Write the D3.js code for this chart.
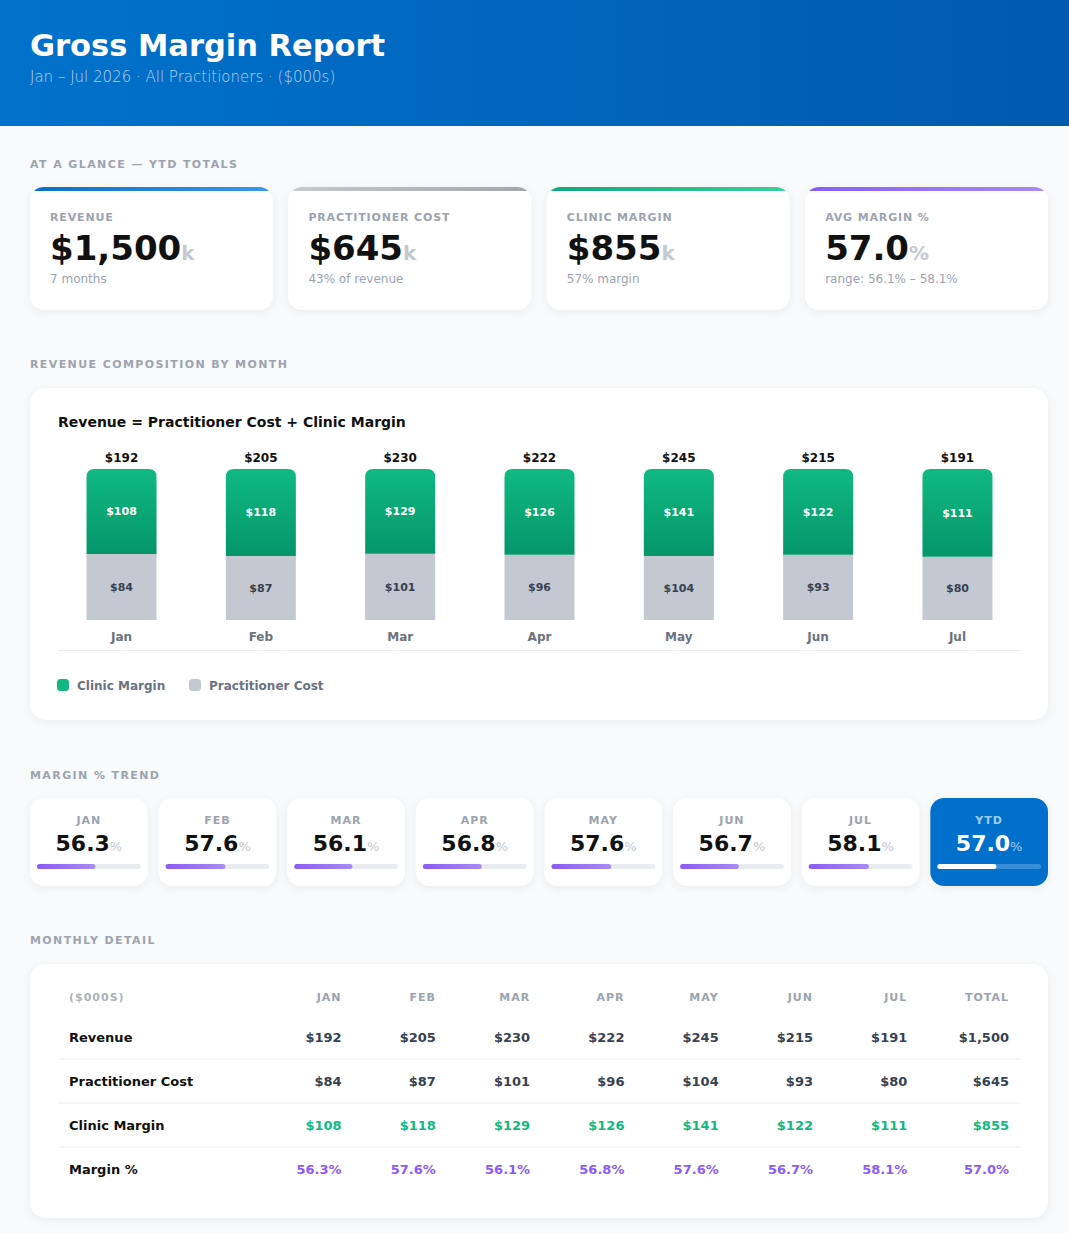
<!DOCTYPE html>
<html>
<head>
<meta charset="utf-8">
<script src="https://cdn.jsdelivr.net/npm/d3@7"></script>
<style>
  html, body { margin: 0; padding: 0; background: #f8fafc; }
  svg { display: block; font-family: "DejaVu Sans", sans-serif; }
</style>
</head>
<body>
<div id="chart"></div>
<script>

// values, $000s
const months = ['Jan', 'Feb', 'Mar', 'Apr', 'May', 'Jun', 'Jul'];
const revenue = [192, 205, 230, 222, 245, 215, 191];
const practitionerCost = [84, 87, 101, 96, 104, 93, 80];
const clinicMargin = [108, 118, 129, 126, 141, 122, 111];
const marginPct = [56.3, 57.6, 56.1, 56.8, 57.6, 56.7, 58.1];
const ytdMarginPct = 57.0;

const kpiLabels = ['REVENUE', 'PRACTITIONER COST', 'CLINIC MARGIN', 'AVG MARGIN %'];
const kpiNotes = ['7 months', '43% of revenue', '57% margin', 'range: 56.1% – 58.1%'];
const tableRows = ['Revenue', 'Practitioner Cost', 'Clinic Margin', 'Margin %'];

const theme = {
	page: '#f8fafc',
	card: '#ffffff',
	ink: '#111111',
	muted: '#9ca3af',
	tick: '#6b7280',
	cell: '#374151',
	rule: '#eceef2',
	green: '#10b981',
	greenDark: '#059669',
	gray: '#c4c8d0',
	purple: '#8b5cf6',
	purpleLight: '#a78bfa',
	blue: '#0070cc',
};

const W = 1069, H = 1233;
const money = v => '$' + d3.format(',')(v);

const svg = d3.select('#chart').append('svg')
	.attr('width', W)
	.attr('height', H);

const defs = svg.append('defs');

const grad = (id, a, b, vertical) => {
	const g = defs.append('linearGradient').attr('id', id)
		.attr('x1', 0).attr('y1', 0)
		.attr('x2', vertical ? 0 : 1).attr('y2', vertical ? 1 : 0);
	g.append('stop').attr('offset', 0).attr('stop-color', a);
	g.append('stop').attr('offset', 1).attr('stop-color', b);
	return 'url(#' + id + ')';
};

const headerFill = grad('hdr', '#0072cc', '#005aae', false);
const greenFill = grad('grn', theme.green, theme.greenDark, true);
const purpleFill = grad('pur', theme.purple, theme.purpleLight, false);
const topBars = [
	grad('kb0', '#0a6fc4', '#3b97ea', false),
	grad('kb1', '#c7c9ce', '#a3a6ad', false),
	grad('kb2', '#10a77a', '#3ccf9c', false),
	grad('kb3', '#8b5cf6', '#a98bf0', false),
];

const shadow = defs.append('filter').attr('id', 'shadow')
	.attr('x', '-10%').attr('y', '-10%').attr('width', '120%').attr('height', '130%');
shadow.append('feDropShadow')
	.attr('dx', 0).attr('dy', 2).attr('stdDeviation', 4)
	.attr('flood-color', '#0f172a').attr('flood-opacity', 0.06);

svg.append('rect').attr('width', W).attr('height', H).attr('fill', theme.page);

// header
svg.append('rect').attr('width', W).attr('height', 126).attr('fill', headerFill);
svg.append('text')
	.attr('x', 30).attr('y', 56)
	.attr('font-size', 30.5).attr('font-weight', 'bold').attr('fill', '#fff')
	.text('Gross Margin Report');
svg.append('text')
	.attr('x', 30).attr('y', 82)
	.attr('font-size', 15).attr('font-weight', 300)
	.attr('fill', '#fff').attr('fill-opacity', 0.7)
	.text('Jan – Jul 2026 · All Practitioners · ($000s)');

const sectionLabel = (y, txt) => svg.append('text')
	.attr('x', 30).attr('y', y)
	.attr('font-size', 11).attr('font-weight', 'bold')
	.attr('letter-spacing', 1.4).attr('fill', theme.muted)
	.text(txt);

const card = (g, w, h, r) => g.append('rect')
	.attr('width', w).attr('height', h).attr('rx', r)
	.attr('fill', theme.card).attr('filter', 'url(#shadow)');

// ---- at a glance ----
sectionLabel(168, 'AT A GLANCE — YTD TOTALS');

const kpiValues = [d3.sum(revenue), d3.sum(practitionerCost), d3.sum(clinicMargin), ytdMarginPct];
const kpiX = d3.scaleBand().domain(d3.range(4)).range([30, 1048]).paddingInner(0.06);

kpiValues.forEach((v, i) => {
	const g = svg.append('g').attr('transform', `translate(${kpiX(i)},187)`);
	const w = kpiX.bandwidth(), h = 123;
	defs.append('clipPath').attr('id', 'kc' + i)
		.append('rect').attr('width', w).attr('height', h).attr('rx', 14);
	card(g, w, h, 14);
	g.append('rect').attr('width', w).attr('height', 4)
		.attr('fill', topBars[i]).attr('clip-path', `url(#kc${i})`);
	g.append('text')
		.attr('x', 20).attr('y', 34)
		.attr('font-size', 11).attr('font-weight', 'bold')
		.attr('letter-spacing', 0.85).attr('fill', theme.muted)
		.text(kpiLabels[i]);
	const t = g.append('text')
		.attr('x', 20).attr('y', 73)
		.attr('font-weight', 'bold').attr('fill', theme.ink);
	t.append('tspan').attr('font-size', 34)
		.text(i === 3 ? v.toFixed(1) : money(v));
	t.append('tspan').attr('font-size', 20).attr('fill', theme.gray)
		.text(i === 3 ? '%' : 'k');
	g.append('text')
		.attr('x', 20).attr('y', 96)
		.attr('font-size', 12).attr('fill', theme.muted)
		.text(kpiNotes[i]);
});

// ---- revenue composition ----
sectionLabel(368, 'REVENUE COMPOSITION BY MONTH');

const chart = svg.append('g').attr('transform', 'translate(30,388)');
card(chart, 1018, 332, 16);
chart.append('text')
	.attr('x', 28).attr('y', 39)
	.attr('font-size', 14).attr('font-weight', 'bold').attr('fill', theme.ink)
	.text('Revenue = Practitioner Cost + Clinic Margin');

const x = d3.scaleBand().domain(months).range([58, 1021]).paddingInner(0.088);
const y = d3.scaleLinear().domain([0, 1]).range([620, 469]);
const barW = 70;

const rows = months.map((m, i) => ({
	m, rev: revenue[i], cost: practitionerCost[i], margin: clinicMargin[i],
	share: clinicMargin[i] / revenue[i],
}));

const topRounded = (x0, y0, w, h, r) =>
	`M${x0},${y0 + h}V${y0 + r}Q${x0},${y0} ${x0 + r},${y0}H${x0 + w - r}Q${x0 + w},${y0} ${x0 + w},${y0 + r}V${y0 + h}Z`;

const bars = svg.append('g').selectAll('g').data(rows).join('g')
	.attr('transform', d => `translate(${x(d.m) + x.bandwidth() / 2},0)`);

bars.append('rect')
	.attr('x', -barW / 2).attr('width', barW)
	.attr('y', d => y(1 - d.share))
	.attr('height', d => y(0) - y(1 - d.share))
	.attr('fill', theme.gray);

bars.append('path')
	.attr('d', d => topRounded(-barW / 2, y(1), barW, y(1 - d.share) - y(1), 8))
	.attr('fill', greenFill);

bars.append('text')
	.attr('text-anchor', 'middle')
	.attr('y', d => (y(1) + y(1 - d.share)) / 2 + 4)
	.attr('font-size', 11).attr('font-weight', 'bold').attr('fill', '#fff')
	.text(d => money(d.margin));

bars.append('text')
	.attr('text-anchor', 'middle')
	.attr('y', d => (y(1 - d.share) + y(0)) / 2 + 4)
	.attr('font-size', 11).attr('font-weight', 'bold').attr('fill', theme.cell)
	.text(d => money(d.cost));

bars.append('text')
	.attr('text-anchor', 'middle')
	.attr('y', y(1) - 7)
	.attr('font-size', 12).attr('font-weight', 'bold').attr('fill', theme.ink)
	.text(d => money(d.rev));

const xAxis = svg.append('g')
	.attr('transform', 'translate(0,620)')
	.call(d3.axisBottom(x).tickSize(0).tickPadding(12));
xAxis.select('.domain').remove();
xAxis.selectAll('text')
	.attr('font-family', '"DejaVu Sans", sans-serif')
	.attr('font-size', 12).attr('font-weight', 'bold').attr('fill', theme.tick);

svg.append('line')
	.attr('x1', 58).attr('x2', 1021).attr('y1', 650.5).attr('y2', 650.5)
	.attr('stroke', theme.rule);

const legend = [['Clinic Margin', theme.green, 57], ['Practitioner Cost', theme.gray, 189]];
const lg = svg.append('g').selectAll('g').data(legend).join('g')
	.attr('transform', d => `translate(${d[2]},679)`);
lg.append('rect').attr('width', 12).attr('height', 12).attr('rx', 3.5).attr('fill', d => d[1]);
lg.append('text')
	.attr('x', 20).attr('y', 10.5)
	.attr('font-size', 12).attr('font-weight', 'bold').attr('fill', theme.tick)
	.text(d => d[0]);

// ---- margin trend ----
sectionLabel(779, 'MARGIN % TREND');

const trend = months.map((m, i) => ({ m: m.toUpperCase(), v: marginPct[i], ytd: false }))
	.concat([{ m: 'YTD', v: ytdMarginPct, ytd: true }]);
const tx = d3.scaleBand().domain(trend.map(d => d.m)).range([30, 1048]).paddingInner(0.085);
const tw = tx.bandwidth();
const fillW = d3.scaleLinear().domain([0, 100]).range([0, tw - 14]);

const tc = svg.append('g').selectAll('g').data(trend).join('g')
	.attr('transform', d => `translate(${tx(d.m)},798)`);

tc.append('rect')
	.attr('width', tw).attr('height', 88).attr('rx', 14)
	.attr('fill', d => d.ytd ? theme.blue : theme.card)
	.attr('filter', 'url(#shadow)');

tc.append('text')
	.attr('x', tw / 2).attr('y', 26)
	.attr('text-anchor', 'middle')
	.attr('font-size', 11).attr('font-weight', 'bold').attr('letter-spacing', 1)
	.attr('fill', d => d.ytd ? '#fff' : theme.muted)
	.attr('fill-opacity', d => d.ytd ? 0.65 : 1)
	.text(d => d.m);

const tv = tc.append('text')
	.attr('x', tw / 2).attr('y', 53)
	.attr('text-anchor', 'middle').attr('font-weight', 'bold')
	.attr('fill', d => d.ytd ? '#fff' : theme.ink);
tv.append('tspan').attr('font-size', 22).text(d => d.v.toFixed(1));
tv.append('tspan').attr('font-size', 13).attr('font-weight', 'normal')
	.attr('fill', d => d.ytd ? '#fff' : theme.gray)
	.attr('fill-opacity', d => d.ytd ? 0.65 : 1)
	.text('%');

tc.append('rect')
	.attr('x', 7).attr('y', 66).attr('width', tw - 14).attr('height', 5).attr('rx', 2.5)
	.attr('fill', d => d.ytd ? '#ffffff' : '#ebecef')
	.attr('fill-opacity', d => d.ytd ? 0.22 : 1);
tc.append('rect')
	.attr('x', 7).attr('y', 66).attr('width', d => fillW(d.v)).attr('height', 5).attr('rx', 2.5)
	.attr('fill', d => d.ytd ? '#fff' : purpleFill);

// ---- monthly detail ----
sectionLabel(944, 'MONTHLY DETAIL');

const table = svg.append('g').attr('transform', 'translate(30,964)');
card(table, 1018, 254, 16);

const cx = d3.scaleBand().domain(months).range([247.3, 907.3]);
const colRight = m => m === 'Total' ? 1009 : cx(m) + cx.bandwidth();
const cols = months.concat(['Total']);
const ry = d3.scalePoint().domain(tableRows).range([1041.5, 1173.5]);
const headY = 1001;

svg.append('text')
	.attr('x', 69).attr('y', headY)
	.attr('font-size', 11).attr('font-weight', 'bold').attr('letter-spacing', 1)
	.attr('fill', theme.muted).attr('fill-opacity', 0.85)
	.text('($000S)');

svg.append('g').selectAll('text').data(cols).join('text')
	.attr('x', colRight).attr('y', headY)
	.attr('text-anchor', 'end')
	.attr('font-size', 11).attr('font-weight', 'bold').attr('letter-spacing', 1)
	.attr('fill', theme.muted)
	.text(d => d.toUpperCase());

const rowData = [
	revenue.concat([d3.sum(revenue)]).map(money),
	practitionerCost.concat([d3.sum(practitionerCost)]).map(money),
	clinicMargin.concat([d3.sum(clinicMargin)]).map(money),
	marginPct.concat([ytdMarginPct]).map(v => v.toFixed(1) + '%'),
];
const rowColor = [theme.cell, theme.cell, theme.green, theme.purple];

tableRows.forEach((r, i) => {
	const yy = ry(r);
	if (i < tableRows.length - 1) {
		svg.append('line')
			.attr('x1', 58).attr('x2', 1021)
			.attr('y1', yy + 17.5).attr('y2', yy + 17.5)
			.attr('stroke', theme.rule);
	}
	svg.append('text')
		.attr('x', 69).attr('y', yy)
		.attr('font-size', 13).attr('font-weight', 'bold').attr('fill', theme.ink)
		.text(r);
	svg.append('g').selectAll('text').data(rowData[i]).join('text')
		.attr('x', (d, j) => colRight(cols[j])).attr('y', yy)
		.attr('text-anchor', 'end')
		.attr('font-size', 13).attr('font-weight', 'bold').attr('fill', rowColor[i])
		.text(d => d);
});

</script>
</body>
</html>
